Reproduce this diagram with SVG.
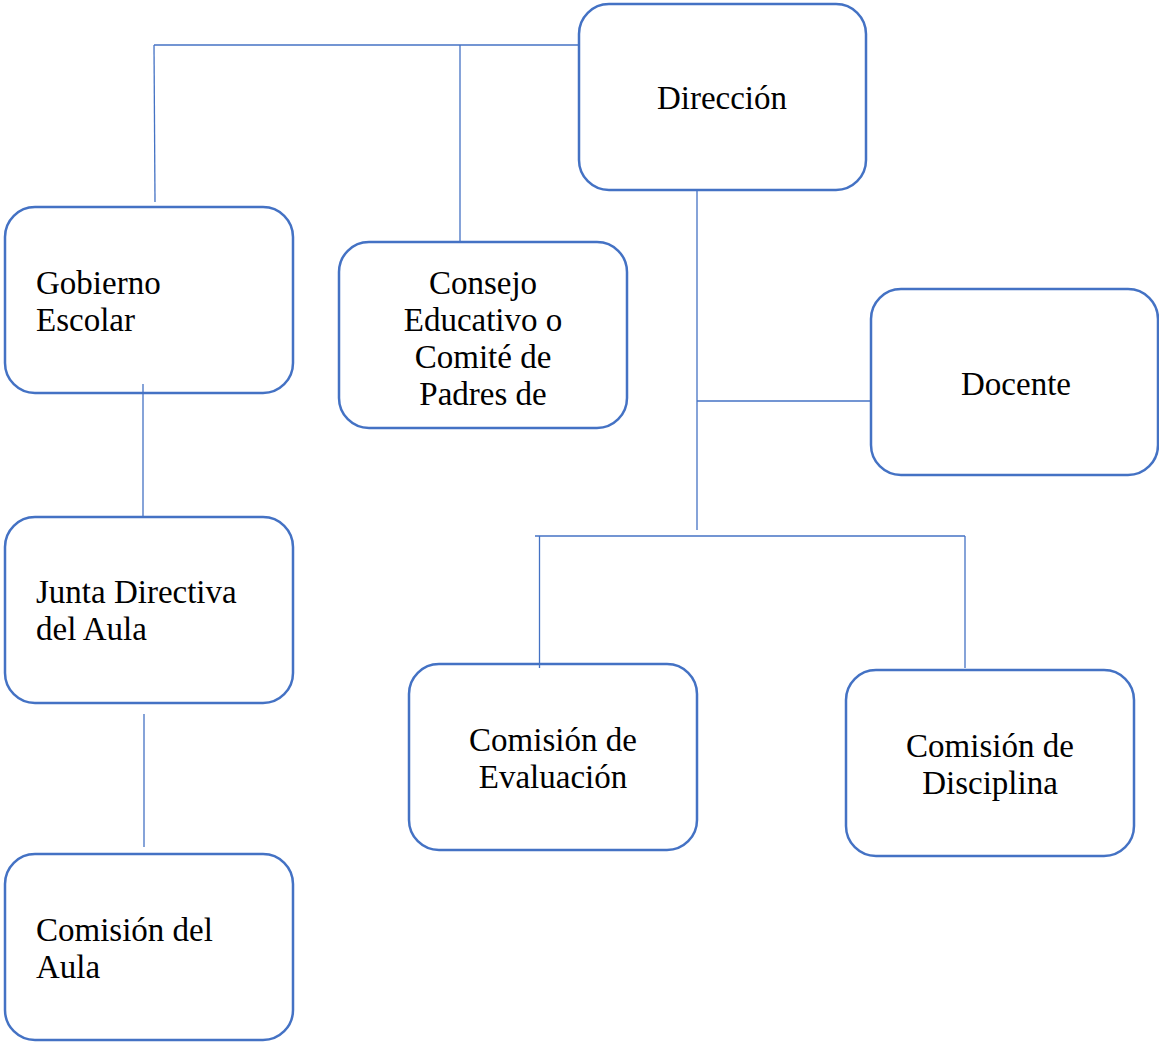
<svg xmlns="http://www.w3.org/2000/svg" width="1159" height="1042" viewBox="0 0 1159 1042">
<style>
.box{fill:#fff;stroke:#4472C4;stroke-width:2.5}
.ln{stroke:#4472C4;stroke-width:1.3;fill:none}
text{font-family:"Liberation Serif","DejaVu Serif",serif;font-size:33px;fill:#000}
.c{text-anchor:middle}
</style>
<rect width="1159" height="1042" fill="#fff"/>
<g id="direccion"><rect class="box" x="579" y="4" width="287" height="186" rx="30"/><text class="c" x="722" y="109">Dirección</text></g>
<g id="gobierno"><rect class="box" x="5" y="207" width="288" height="186" rx="30"/><text x="36" y="294">Gobierno</text><text x="36" y="331">Escolar</text></g>
<g id="consejo"><rect class="box" x="339" y="242" width="288" height="186" rx="30"/><text class="c" x="483" y="294">Consejo</text><text class="c" x="483" y="331">Educativo o</text><text class="c" x="483" y="368">Comité de</text><text class="c" x="483" y="405">Padres de</text></g>
<g id="docente"><rect class="box" x="871" y="289" width="287" height="186" rx="30"/><text class="c" x="1016" y="395">Docente</text></g>
<g id="junta"><rect class="box" x="5" y="517" width="288" height="186" rx="30"/><text x="36" y="603">Junta Directiva</text><text x="36" y="640">del Aula</text></g>
<g id="comision-aula"><rect class="box" x="5" y="854" width="288" height="186" rx="30"/><text x="36" y="941">Comisión del</text><text x="36" y="978">Aula</text></g>
<g id="evaluacion"><rect class="box" x="409" y="664" width="288" height="186" rx="30"/><text class="c" x="553" y="751">Comisión de</text><text class="c" x="553" y="788">Evaluación</text></g>
<g id="disciplina"><rect class="box" x="846" y="670" width="288" height="186" rx="30"/><text class="c" x="990" y="757">Comisión de</text><text class="c" x="990" y="794">Disciplina</text></g>
<g id="connectors">
<line class="ln" x1="154" y1="45" x2="578" y2="45"/>
<line class="ln" x1="154" y1="45" x2="155" y2="202"/>
<line class="ln" x1="460" y1="45" x2="460" y2="241"/>
<line class="ln" x1="697" y1="191" x2="697" y2="530"/>
<line class="ln" x1="697" y1="401" x2="870" y2="401"/>
<line class="ln" x1="535" y1="536" x2="965" y2="536"/>
<line class="ln" x1="539.5" y1="536" x2="539.5" y2="668"/>
<line class="ln" x1="965" y1="536" x2="965" y2="668"/>
<line class="ln" x1="143" y1="384" x2="143" y2="516"/>
<line class="ln" x1="144" y1="714" x2="144" y2="847"/>
</g>
</svg>
